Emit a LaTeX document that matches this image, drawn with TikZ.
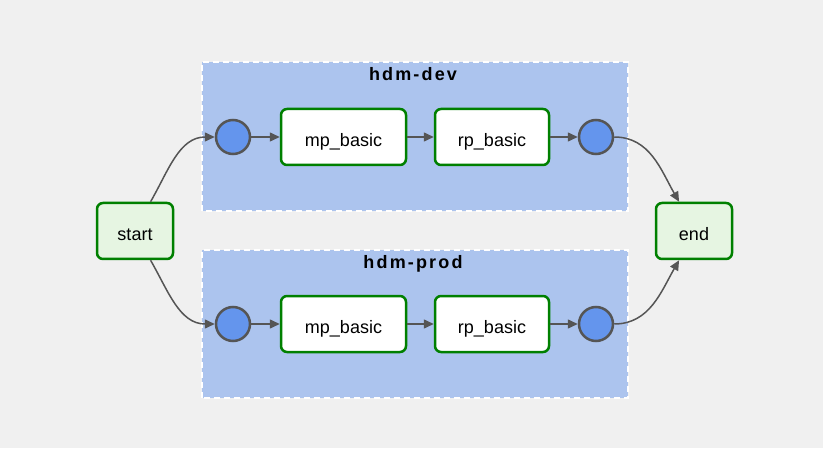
\documentclass[tikz,border=0pt]{standalone}
\usepackage{fontspec}
\setmainfont{Liberation Sans}
\newfontfamily\clusterfont[LetterSpace=12]{Liberation Sans}
\usetikzlibrary{arrows.meta}
\definecolor{bgcol}{HTML}{F0F0F0}
\definecolor{clustercol}{HTML}{ACC4EE}
\definecolor{termfill}{HTML}{E6F5E2}
\definecolor{okgreen}{HTML}{008000}
\definecolor{dotblue}{HTML}{6495ED}
\definecolor{edgegray}{HTML}{555555}
\begin{document}
\begin{tikzpicture}[x=1pt,y=1pt,
 font=\fontsize{18}{20}\selectfont,
 cluster/.style={fill=clustercol,draw=white,dash pattern=on 6pt off 4pt,line width=1.2pt},
 clusterlbl/.style={anchor=base,font=\clusterfont\fontsize{18}{20}\selectfont\bfseries},
 term/.style={draw=okgreen,fill=termfill,line width=2.5pt,rounded corners=6pt,minimum width=76pt,minimum height=56pt,text height=19pt,text depth=0pt},
 task/.style={draw=okgreen,fill=white,line width=2.5pt,rounded corners=6pt,minimum height=56pt,text height=19pt,text depth=0pt},
 dot/.style={circle,draw=edgegray,fill=dotblue,line width=2.5pt,minimum size=34pt,inner sep=0pt},
 edge/.style={draw=edgegray,line width=1.5pt,-{Triangle[length=10pt,width=9pt]}}]
 \fill[bgcol](0,0) rectangle (823,448);
 % clusters
 \draw[cluster](202,237) rectangle (628,386);
 \draw[cluster](202,50) rectangle (628,198);
 \node[clusterlbl] (devlbl) at (413,367.7) {hdm-dev};
 \node[clusterlbl] (prodlbl) at (413,179.7) {hdm-prod};
 % start and end
 \node[term] (start) at (135,217) {start};
 \node[term] (end) at (694,217) {end};
 % hdm-dev
 \node[dot] (devin) at (233,311) {};
 \node[task,minimum width=125pt] (devmp) at (343.5,311) {mp\_basic};
 \node[task,minimum width=114pt] (devrp) at (492,311) {rp\_basic};
 \node[dot] (devout) at (596,311) {};
 % hdm-prod
 \node[dot] (prodin) at (233,124) {};
 \node[task,minimum width=125pt] (prodmp) at (343.5,124) {mp\_basic};
 \node[task,minimum width=114pt] (prodrp) at (492,124) {rp\_basic};
 \node[dot] (prodout) at (596,124) {};
 % edges
 \draw[edge](start.62) to[out=60,in=180] (devin.west);
 \draw[edge](start.-62) to[out=-60,in=180] (prodin.west);
 \draw[edge](devin) -- (devmp);
 \draw[edge](devmp) -- (devrp);
 \draw[edge](devrp) -- (devout);
 \draw[edge](prodin) -- (prodmp);
 \draw[edge](prodmp) -- (prodrp);
 \draw[edge](prodrp) -- (prodout);
 \draw[edge](devout.east) to[out=0,in=120] (end.117);
 \draw[edge](prodout.east) to[out=0,in=-120] (end.-117);
\end{tikzpicture}
\end{document}
